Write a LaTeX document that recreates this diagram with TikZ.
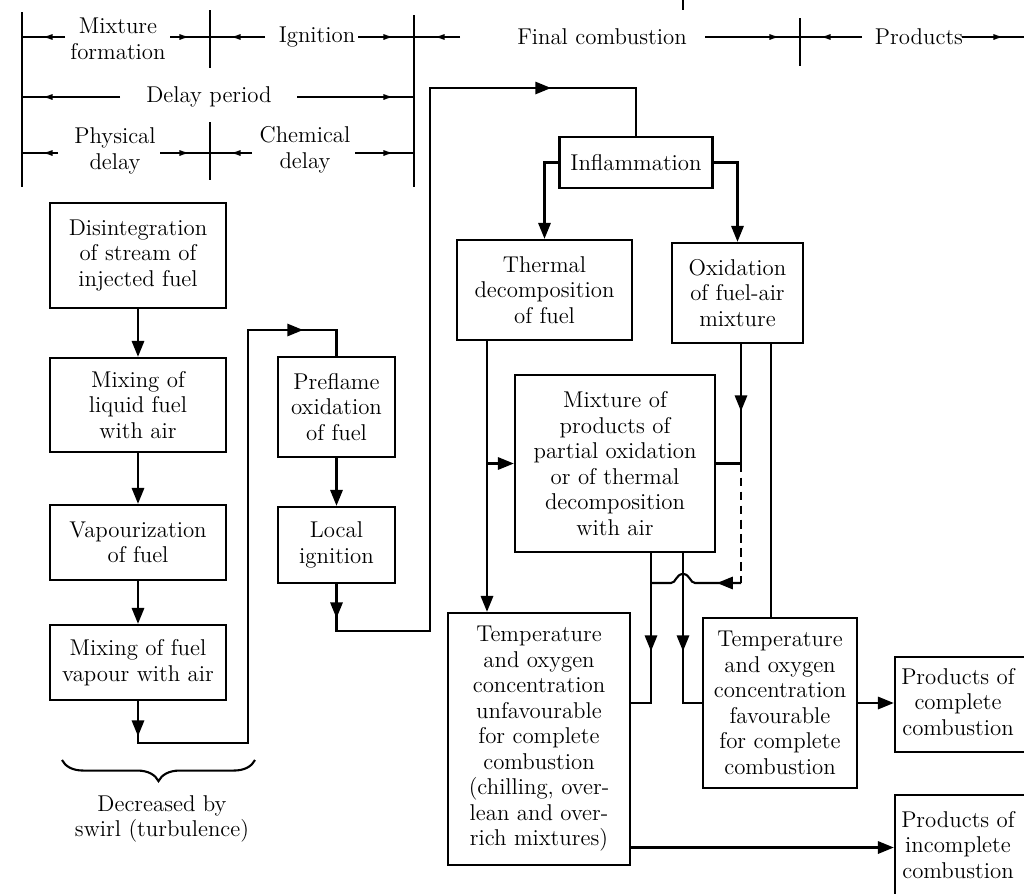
\documentclass[tikz,border=0pt]{standalone}
\usetikzlibrary{arrows.meta,decorations.markings,decorations.pathreplacing}
\begin{document}
\begin{tikzpicture}[x=0.02cm,y=-0.02cm,
  >={Triangle[length=9pt,width=7pt]},
  every node/.style={font=\fontsize{13}{14.5}\selectfont, inner sep=1pt},
  box/.style={draw, line width=1.4pt, align=center},
  pbox/.style={draw, line width=1.4pt},
  lbl/.style={align=center},
  conn/.style={line width=1.2pt},
  dim/.style={line width=1pt},
  arrowat/.style={postaction={decorate,decoration={markings,mark=at position #1 with {\arrow{>}}}}},
  dimarrow/.style={postaction={decorate,decoration={markings,mark=at position -0.4cm with {\arrow{Latex[length=6pt,width=3.5pt]}}}}}
]
\useasboundingbox (0,0) rectangle (1024,893);

% ---------- time scale ----------
\draw[dim] (22,12) -- (22,187);
\draw[dim] (210,10) -- (210,68);
\draw[dim] (210,122) -- (210,180);
\draw[dim] (414,15) -- (414,187);
\draw[dim] (800,18) -- (800,66);
\draw[dim] (683,0) -- (683,10);

\node[lbl] (mf) at (118,39) {Mixture\\formation};
\node[lbl] (ig) at (317,37) {Ignition};
\node[lbl] (fc) at (602,37) {Final combustion};
\node[lbl] (pr) at (919,37) {Products};
\node[lbl] (dp) at (209,97) {Delay period};
\node[lbl] (ph) at (115,151) {Physical\\delay};
\node[lbl] (ch) at (305,150) {Chemical\\delay};

\draw[dim,dimarrow] (65,37) -- (22,37);
\draw[dim,dimarrow] (170,37) -- (210,37);
\draw[dim,dimarrow] (265,37) -- (210,37);
\draw[dim,dimarrow] (358,37) -- (414,37);
\draw[dim,dimarrow] (460,37) -- (414,37);
\draw[dim,dimarrow] (705,37) -- (800,37);
\draw[dim,dimarrow] (862,37) -- (800,37);
\draw[dim,dimarrow] (962,37) -- (1024,37);

\draw[dim,dimarrow] (120,97) -- (22,97);
\draw[dim,dimarrow] (297,97) -- (414,97);

\draw[dim,dimarrow] (58,153) -- (22,153);
\draw[dim,dimarrow] (160,153) -- (210,153);
\draw[dim,dimarrow] (252,153) -- (210,153);
\draw[dim,dimarrow] (355,153) -- (414,153);

% ---------- boxes ----------
\node[box, minimum width=3.52cm, minimum height=2.10cm] (dis) at (138,255.5) {Disintegration\\of stream of\\injected fuel};
\node[box, minimum width=3.52cm, minimum height=1.88cm] (mixl) at (138,405) {Mixing of\\liquid fuel\\with air};
\node[box, minimum width=3.52cm, minimum height=1.50cm] (vap) at (138,542.5) {Vapourization\\of fuel};
\node[box, minimum width=3.52cm, minimum height=1.50cm] (mixv) at (138,662.5) {Mixing of fuel\\vapour with air};
\node[box, minimum width=2.34cm, minimum height=2.00cm] (pre) at (336.5,407) {Preflame\\oxidation\\of fuel};
\node[box, minimum width=2.34cm, minimum height=1.52cm] (loc) at (336.5,545) {Local\\ignition};
\node[box, minimum width=3.06cm, minimum height=1.02cm] (inf) at (636,162.5) {Inflammation};
\node[box, minimum width=3.50cm, minimum height=2.00cm] (the) at (544.5,290) {Thermal\\decomposition\\of fuel};
\node[box, minimum width=2.62cm, minimum height=2.00cm] (oxi) at (737.5,293) {Oxidation\\of fuel-air\\mixture};
\node[box, minimum width=4.00cm, minimum height=3.54cm] (mix) at (615,463.5) {Mixture of\\products of\\partial oxidation\\or of thermal\\decomposition\\with air};
\node[box, minimum width=3.64cm, minimum height=5.04cm] (unf) at (539,739) {Temperature\\and oxygen\\concentration\\unfavourable\\for complete\\combustion\\(chilling, over-\\lean and over-\\rich mixtures)};
\node[box, minimum width=3.08cm, minimum height=3.40cm] (fav) at (780,703) {Temperature\\and oxygen\\concentration\\favourable\\for complete\\combustion};
\node[pbox, minimum width=2.90cm, minimum height=1.90cm] (pc) at (967.5,704.5) {\begin{tabular}{@{}c@{}}Products of\\complete\\combustion\end{tabular}\kern0.38cm};
\node[pbox, minimum width=2.90cm, minimum height=2.10cm] (pi) at (967.5,847.5) {\begin{tabular}{@{}c@{}}Products of\\incomplete\\combustion\end{tabular}\kern0.38cm};

% ---------- brace ----------
\draw[line width=1.2pt, decorate, decoration={brace, mirror, amplitude=12pt}] (62,760) -- (255,760);
\node[lbl] (dec) at (162,819) {Decreased by\\swirl (turbulence)};

% ---------- connectors ----------
\coordinate (b1) at (138,743);
\coordinate (b2) at (248,743);
\coordinate (b3) at (248,330);
\coordinate (b4) at (336.5,631);
\coordinate (b5) at (430,631);
\coordinate (tl) at (430,88);
\coordinate (c1) at (487,0);
\coordinate (c2) at (741,0);
\coordinate (c3) at (771,0);
\coordinate (c4) at (651,0);
\coordinate (c5) at (683,0);
\coordinate (hop) at (741,583);

\draw[conn,->] (dis) -- (mixl);
\draw[conn,->] (mixl) -- (vap);
\draw[conn,->] (vap) -- (mixv);
\draw[conn,arrowat=0.7cm,arrowat=12.4cm] (mixv.south) -- (b1) -- (b2) -- (b3) -| (pre.north);
\draw[conn,->] (pre) -- (loc);
\draw[conn,arrowat=0.68cm,arrowat=16.09cm] (loc.south) -- (b4) -- (b5) -- (tl) -| (inf.north);
\draw[conn,->] (inf.west) -| (the.north);
\draw[conn,->] (inf.east) -| (oxi.north);
\draw[conn,->] (the.south -| c1) -- (unf.north -| c1);
\draw[conn,->] (c1 |- mix.west) -- (mix.west);
\draw[conn,arrowat=1.34cm] (oxi.south -| c2) |- (mix.east);
\draw[conn,dash pattern=on 5pt off 3pt] (c2 |- mix.east) -- (hop);
\draw[conn,arrowat=0.48cm] (hop) -- (695,583) .. controls (690,583) and (690,574) .. (683,574) .. controls (676,574) and (676,583) .. (671,583) -- (c4 |- hop);
\draw[conn,arrowat=1.96cm] (mix.south -| c4) -- (c4 |- fav.west) -- (unf.east |- fav.west);
\draw[conn,arrowat=1.96cm] (mix.south -| c5) |- (fav.west);
\draw[conn] (oxi.south -| c3) -- (fav.north -| c3);
\draw[conn,->] (fav.east) -- (fav.east -| pc.west);
\draw[conn,->] (unf.east |- pi.west) -- (pi.west);
\end{tikzpicture}
\end{document}
